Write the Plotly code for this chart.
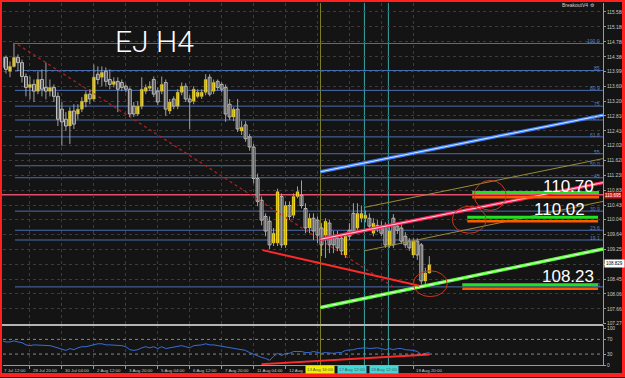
import plotly.graph_objects as go

W, H = 625, 378

# ---------------- data ----------------
opens = [114.10,114.37,114.00,114.13,114.37,114.23,113.86,113.57,113.65,113.47,
113.78,113.57,113.47,113.57,113.33,112.99,112.72,112.54,112.94,112.86,
112.99,113.18,113.39,113.26,113.92,113.84,114.00,113.78,113.65,113.73,
113.70,113.60,113.52,113.07,112.86,113.07,113.47,113.55,113.78,113.47,
113.47,113.70,112.94,113.26,113.07,113.44,113.60,113.26,113.20,113.33,
113.33,113.44,113.84,113.47,113.73,113.65,113.57,113.12,112.78,112.99,
112.41,112.57,112.25,111.98,111.14,110.56,110.13,110.00,109.42,109.42,
110.66,109.37,110.42,110.16,110.66,110.69,110.34,109.82,110.08,110.03,
109.82,109.63,109.95,109.60,109.55,109.55,109.10,109.76,110.21,109.82,
110.08,110.08,110.08,109.68,109.89,109.87,109.87,109.34,110.08,109.87,
109.82,109.60,109.47,109.10,109.47,109.37,108.41,108.62]
highs = [114.39,114.42,114.26,114.76,114.45,114.31,113.94,113.86,113.78,114.00,
114.05,114.23,113.78,113.65,113.44,113.18,112.91,113.04,113.12,113.12,
113.31,113.47,113.52,114.18,114.13,114.13,114.10,114.05,113.84,113.84,
113.78,113.65,113.57,113.18,113.20,113.84,113.65,113.73,113.86,113.57,
113.86,113.78,113.26,113.33,113.52,113.70,113.68,113.36,113.60,113.52,
113.52,113.92,113.92,113.78,113.78,113.70,113.65,113.26,113.04,113.26,
112.67,112.67,112.33,112.06,111.27,110.66,110.21,110.13,109.82,110.87,
110.74,110.53,110.53,110.74,110.93,111.09,110.48,110.21,110.21,110.13,
109.95,110.08,110.03,109.74,109.74,109.66,109.68,109.95,110.48,110.48,
110.42,110.29,110.21,110.08,110.03,110.00,109.97,109.87,110.19,109.97,
109.92,109.71,109.55,109.55,109.55,109.42,108.76,109.07]
lows = [113.97,113.94,113.84,114.10,114.00,113.70,113.33,113.25,113.18,113.39,
113.33,113.25,113.33,113.18,112.54,112.01,112.41,112.06,112.46,112.72,
112.91,113.04,113.12,113.20,113.65,113.60,113.60,113.52,113.57,112.91,
113.47,113.44,112.78,112.78,112.81,112.99,113.39,113.47,113.31,113.10,
113.39,112.81,112.86,112.99,112.99,113.36,113.18,112.46,113.12,113.28,
113.26,113.36,113.33,113.39,113.49,113.44,112.65,112.70,112.67,112.38,
112.30,112.12,111.88,111.01,110.40,109.89,109.60,109.26,109.34,109.34,
109.29,109.29,110.03,110.08,110.61,110.34,109.68,109.68,109.50,109.42,
109.07,109.02,109.15,109.15,109.21,109.10,109.02,109.50,109.66,109.74,
109.97,109.97,109.76,109.60,109.71,109.60,109.29,109.29,109.29,109.66,
109.39,109.29,109.21,109.02,108.97,108.31,108.31,108.60]
closes = [114.37,114.05,114.13,114.37,114.23,113.86,113.57,113.65,113.47,113.78,
113.52,113.47,113.57,113.33,112.72,112.65,112.54,112.94,112.59,112.99,
113.20,113.39,113.26,113.84,113.78,113.97,113.73,113.65,113.73,113.52,
113.57,113.52,112.86,112.86,113.07,113.52,113.57,113.60,113.39,113.18,
113.65,112.99,113.18,113.07,113.44,113.60,113.26,113.18,113.52,113.44,
113.44,113.78,113.39,113.70,113.57,113.52,112.86,112.78,112.99,112.46,
112.51,112.20,111.98,111.14,110.53,110.03,109.74,109.37,109.68,110.79,
109.37,110.42,110.13,110.66,110.79,110.42,109.82,110.08,109.74,109.63,
109.37,110.00,109.37,109.37,109.29,109.21,109.60,109.60,109.74,110.21,
110.21,110.16,109.87,109.95,109.82,109.68,109.37,109.74,109.37,109.76,
109.47,109.37,109.29,109.47,109.10,108.41,108.62,108.84]
rsi = [66,63,63,66,63,61,55,53,55,55,
53,55,53,50,47,42,40,45,42,47,
50,50,53,55,58,58,55,55,55,53,
53,50,42,40,42,47,50,47,50,45,
50,45,47,47,50,53,50,47,53,53,
55,58,55,55,53,53,50,47,47,45,
42,40,34,29,26,21,18,13,24,32,
26,32,32,37,37,37,34,34,37,34,
32,34,32,32,34,34,40,40,42,45,
47,47,45,47,47,45,42,45,42,45,
45,42,42,40,37,29,32,34]
bars = list(range(len(closes)))

fib_labels = ["100.0", "85", "80.9", "75", "70.7", "61.8", "55", "50.0", "45",
              "30.9", "23.6", "19.1", "0.0"]
fib_prices = [114.74, 114.02, 113.49, 113.07, 112.70, 112.25, 111.80, 111.48,
              111.16, 110.27, 109.76, 109.50, 108.25]
fib_start = 3.25
red_level = 110.71

# trend lines: (bar positions, prices)
blue_x, blue_y = [79.75, 150.5], [111.32, 112.83]
pink_x, pink_y = [79.75, 150.5], [109.52, 111.03]
green_x, green_y = [79.75, 150.5], [107.70, 109.26]
khaki_hi_x, khaki_hi_y = [90.75, 150.5], [110.37, 111.67]
khaki_lo_x, khaki_lo_y = [90.75, 150.5], [109.21, 110.53]
support_x, support_y = [65.25, 104.5], [109.23, 108.28]
dotted_x, dotted_y = [4.0, 98.25], [114.71, 108.23]
rsi_line_x, rsi_line_y = [65.0, 107.0], [2.6, 29.0]

level_texts = ["110.70", "110.02", "108.23"]
level_green = [110.77, 110.11, 108.31]
level_orange = [110.64, 110.00, 108.20]
level_start = [117.75, 116.5, 115.25]
level_end = [149.5, 149.25, 149.25]

circles = [  # (x0, x1, y0, y1)
    (103.0, 111.5, 107.99, 108.68),
    (118.25, 126.25, 110.29, 111.09),
    (112.75, 121.25, 109.68, 110.40),
]

vlines = [(79.75, "#7f7f24"), (90.75, "#3aa6a6"), (96.75, "#3aa6a6")]

ytick_vals = [115.58, 115.18, 114.78, 114.38, 113.99, 113.60, 113.20, 112.81, 112.41,
              112.02, 111.62, 111.23, 110.83, 110.43, 110.04, 109.64, 109.25, 108.85,
              108.45, 108.06, 107.66, 107.27]
ytick_text = ["" if v == 108.85 else "%.3f" % v for v in ytick_vals]

time_ticks = [7, 15, 23, 31, 39, 47, 55, 63, 71, 79, 87, 95, 103]
time_labels = ["28 Jul 20:00", "30 Jul 04:00", "2 Aug 12:00", "3 Aug 20:00",
               "5 Aug 04:00", "6 Aug 12:00", "7 Aug 20:00", "11 Aug 04:00",
               "12 Aug", "", "", "", "19 Aug 20:00"]

# ---------------- helpers for layout ----------------
def px(x):
    return x / W

def py(y):
    return 1 - y / H

BG = "#141414"
TICKFONT = dict(family="Liberation Sans", size=4.8, color="#c8c8c8")
fig = go.Figure()

# dotted diagonal
fig.add_trace(go.Scatter(x=dotted_x, y=dotted_y, mode="lines",
                         line=dict(color="#a82222", width=1.3, dash="dot"),
                         hoverinfo="skip"))

# wicks
wx, wy = [], []
for i, h, l in zip(bars, highs, lows):
    wx += [i, i, None]
    wy += [l, h, None]
fig.add_trace(go.Scatter(x=wx, y=wy, mode="lines",
                         line=dict(color="#a0a0a0", width=1), hoverinfo="skip"))

# bodies
up = [c >= o for o, c in zip(opens, closes)]
base = [min(o, c) for o, c in zip(opens, closes)]
hgt = [max(abs(c - o), 0.015) for o, c in zip(opens, closes)]
cols = ["#ffe21a" if u else "#000000" for u in up]
lcols = ["#d8c040" if u else "#c8c8c8" for u in up]
lw = [0.4 if u else 1 for u in up]
fig.add_trace(go.Bar(x=bars, y=hgt, base=base, width=0.72,
                     marker=dict(color=cols, line=dict(color=lcols, width=lw)),
                     hoverinfo="skip"))

# khaki thin channel lines
for xs, ys in [(khaki_hi_x, khaki_hi_y), (khaki_lo_x, khaki_lo_y)]:
    fig.add_trace(go.Scatter(x=xs, y=ys, mode="lines",
                             line=dict(color="#9a8a3c", width=1), hoverinfo="skip"))

# thick double lines
for xs, ys, c1, c2 in [(blue_x, blue_y, "#3b7dff", "#d8e6ff"),
                       (pink_x, pink_y, "#ff2458", "#ffd2de"),
                       (green_x, green_y, "#55ff33", "#e6ffe0")]:
    fig.add_trace(go.Scatter(x=xs, y=ys, mode="lines",
                             line=dict(color=c1, width=3.5), hoverinfo="skip"))
    fig.add_trace(go.Scatter(x=xs, y=ys, mode="lines",
                             line=dict(color=c2, width=1), hoverinfo="skip"))

# red support
fig.add_trace(go.Scatter(x=support_x, y=support_y, mode="lines",
                         line=dict(color="#ff2a2a", width=2), hoverinfo="skip"))

# level segments
for g, o, s, e in zip(level_green, level_orange, level_start, level_end):
    fig.add_trace(go.Scatter(x=[s, e], y=[g, g], mode="lines",
                             line=dict(color="#22e022", width=3), hoverinfo="skip"))
    fig.add_trace(go.Scatter(x=[s, e], y=[o, o], mode="lines",
                             line=dict(color="#ff5a00", width=2.5), hoverinfo="skip"))

# indicator
fig.add_trace(go.Scatter(x=bars, y=rsi, mode="lines", xaxis="x2", yaxis="y2",
                         line=dict(color="#3a6fd6", width=1), hoverinfo="skip"))
fig.add_trace(go.Scatter(x=rsi_line_x, y=rsi_line_y, mode="lines", xaxis="x2", yaxis="y2",
                         line=dict(color="#ff2a2a", width=2), hoverinfo="skip"))

shapes = []
# fib lines
for p in fib_prices:
    shapes.append(dict(type="line", xref="x", yref="y", x0=fib_start, x1=150.5,
                       y0=p, y1=p, line=dict(color="#4d6fae", width=1), layer="below"))
shapes.append(dict(type="line", xref="paper", yref="y", x0=0, x1=px(604),
                   y0=red_level, y1=red_level, line=dict(color="#e0506a", width=1.5),
                   layer="below"))
# vertical lines
for xv, c in vlines:
    shapes.append(dict(type="line", xref="x", yref="paper", x0=xv, x1=xv,
                       y0=py(368), y1=py(3), line=dict(color=c, width=1), layer="below"))
# circles
for x0, x1, y0, y1 in circles:
    shapes.append(dict(type="circle", xref="x", yref="y", x0=x0, x1=x1, y0=y0, y1=y1,
                       line=dict(color="#c8381e", width=1)))
# indicator dotted levels
for lv in [30, 70]:
    shapes.append(dict(type="line", xref="paper", yref="y2", x0=px(3), x1=px(604),
                       y0=lv, y1=lv, line=dict(color="#8a8a8a", width=1, dash="dot")))
# separators
shapes.append(dict(type="line", xref="paper", yref="paper", x0=0, x1=px(604),
                   y0=py(327.5), y1=py(327.5), line=dict(color="#b4b4b4", width=2)))
# red border
shapes.append(dict(type="rect", xref="paper", yref="paper", x0=0, x1=1, y0=0, y1=1,
                   line=dict(color="#ff2020", width=4)))

ann = []
for lab, p in zip(fib_labels, fib_prices):
    ann.append(dict(xref="paper", yref="y", x=px(603), y=p, text=lab, showarrow=False,
                    xanchor="right", yanchor="bottom", yshift=-3,
                    font=dict(family="Liberation Sans", size=5, color="#5b80c8")))
ann.append(dict(xref="paper", yref="paper", x=px(113), y=py(42), text="EJ H4",
                showarrow=False, xanchor="left", yanchor="middle",
                font=dict(family="Roboto", size=30, color="#ffffff", weight=300)))
for t, xr, yc in zip(level_texts, [597, 588, 597], [188, 211, 279]):
    ann.append(dict(xref="paper", yref="paper", x=px(xr), y=py(yc), text=t,
                    showarrow=False, xanchor="right", yanchor="middle",
                    font=dict(family="Liberation Sans", size=17, color="#ffffff")))
ann.append(dict(xref="paper", yref="paper", x=px(598), y=py(5), text="BreakoutV4 \u2699",
                showarrow=False, xanchor="right", yanchor="middle",
                font=dict(family="Liberation Sans", size=5, color="#d0d0d0")))
# price tags on axis
ann.append(dict(xref="paper", yref="paper", x=px(605), y=py(197.5), text="110.695",
                showarrow=False, xanchor="left", yanchor="middle", bgcolor="#e01010",
                borderpad=0, font=dict(family="Liberation Sans", size=4.5, color="#ffffff")))
ann.append(dict(xref="paper", yref="paper", x=px(605), y=py(266), text="108.829",
                showarrow=False, xanchor="left", yanchor="middle", bgcolor="#ffffff",
                borderpad=1, font=dict(family="Liberation Sans", size=4.5, color="#000000")))
# time labels
ann.append(dict(xref="paper", yref="paper", x=px(2), y=py(373), text="7 Jul 12:00",
                showarrow=False, xanchor="left", yanchor="middle",
                font=dict(family="Liberation Sans", size=4.4, color="#c8c8c8")))
for tv, tl in zip(time_ticks, time_labels):
    if tl:
        ann.append(dict(xref="x2", yref="paper", x=tv, y=py(373), text=tl, showarrow=False,
                        xanchor="left", yanchor="middle", xshift=1,
                        font=dict(family="Liberation Sans", size=4.4, color="#c8c8c8")))
for xv, t, bg, anc in [(79.75, "13 Aug 16:00", "#f0f000", "center"),
                       (90.75, "17 Aug 12:00", "#40d8d8", "right"),
                       (96.75, "18 Aug 12:00", "#40d8d8", "left")]:
    sh = {"center": 0, "right": 3, "left": -19}[anc]
    ann.append(dict(xref="x2", yref="paper", x=xv, y=py(372.5), text=t, showarrow=False,
                    xanchor=anc, yanchor="middle", xshift=sh, bgcolor=bg, borderpad=1,
                    font=dict(family="Liberation Sans", size=4.4, color="#555555")))

fig.update_layout(
    width=W, height=H, margin=dict(l=0, r=0, t=0, b=0),
    paper_bgcolor=BG, plot_bgcolor=BG, showlegend=False, barmode="overlay",
    shapes=shapes, annotations=ann,
    xaxis=dict(domain=[px(3), px(604)], range=[0.25, 150.5], anchor="y",
               showticklabels=False, tickvals=time_ticks, showgrid=True,
               gridcolor="#3c3c3c", griddash="dot", zeroline=False, ticks=""),
    yaxis=dict(domain=[py(327), py(3)], range=[107.2492, 115.8206], side="right",
               anchor="x", tickvals=ytick_vals, ticktext=ytick_text, showgrid=True,
               gridcolor="#3c3c3c", griddash="dot", zeroline=False, showline=True,
               linecolor="#9a9a9a", ticks="outside", ticklen=2, tickcolor="#9a9a9a",
               tickfont=TICKFONT),
    xaxis2=dict(domain=[px(3), px(604)], range=[0.25, 150.5], anchor="y2",
                matches="x", tickvals=time_ticks, showticklabels=False, showgrid=True,
                gridcolor="#3c3c3c", griddash="dot", zeroline=False, showline=True,
                linecolor="#9a9a9a", ticks="outside", ticklen=3, tickcolor="#9a9a9a"),
    yaxis2=dict(domain=[py(368), py(328)], range=[0, 108.1], side="right", anchor="x2",
                tickvals=[0, 30, 70, 100], showgrid=False, zeroline=False,
                showline=True, linecolor="#9a9a9a", ticks="outside", ticklen=2,
                tickcolor="#9a9a9a", tickfont=TICKFONT),
)

fig.write_html("out.html")
